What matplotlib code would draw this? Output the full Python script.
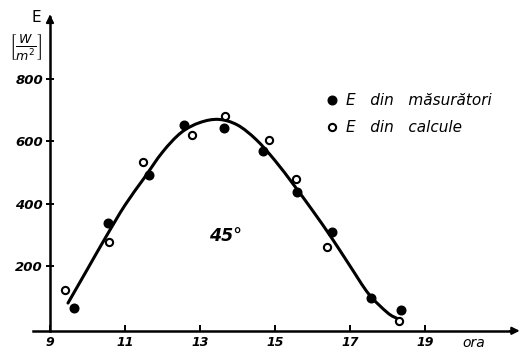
import matplotlib
matplotlib.use("Agg")
import matplotlib.pyplot as plt
from matplotlib.path import Path
from matplotlib.patches import PathPatch

# Irradiance on a 45° tilted surface over the day
hours_measured = [9.64, 10.55, 11.64, 12.58, 13.64, 14.67, 15.60, 16.53, 17.56, 18.35]
E_measured = [65, 337, 492, 652, 642, 569, 438, 308, 96, 59]

hours_calc = [9.40, 10.57, 11.47, 12.78, 13.67, 14.84, 15.56, 16.39, 18.31]
E_calc = [123, 276, 534, 620, 682, 604, 479, 260, 23]

# smooth trend curve (knots)
curve_hours = [9.48, 10.0, 10.5, 11.0, 11.5, 12.0, 12.5, 13.0, 13.5, 14.0,
               14.5, 15.0, 15.5, 16.0, 16.5, 17.0, 17.5, 18.0, 18.25]
curve_E = [81, 190, 295, 395, 480, 565, 628, 660, 670, 652,
           605, 538, 460, 378, 292, 200, 110, 50, 32]

x_ticks = [9, 11, 13, 15, 17, 19]
y_ticks = [200, 400, 600, 800]

fig = plt.figure(figsize=(5.27, 3.52), dpi=100)
ax = fig.add_axes([0, 0, 1, 1])
ax.set_xlim(7.667, 21.72)
ax.set_ylim(-76, 1053)

# Catmull-Rom knots turned into cubic Bezier segments for a smooth curve
pts = list(zip(curve_hours, curve_E))
verts = [pts[0]]
codes = [Path.MOVETO]
n = len(pts)
for i in range(n - 1):
    p0 = pts[i - 1] if i > 0 else pts[i]
    p1 = pts[i]
    p2 = pts[i + 1]
    p3 = pts[i + 2] if i + 2 < n else pts[i + 1]
    c1 = (p1[0] + (p2[0] - p0[0]) / 6, p1[1] + (p2[1] - p0[1]) / 6)
    c2 = (p2[0] - (p3[0] - p1[0]) / 6, p2[1] - (p3[1] - p1[1]) / 6)
    verts += [c1, c2, p2]
    codes += [Path.CURVE4] * 3
ax.add_patch(PathPatch(Path(verts, codes), fill=False, lw=2.2,
                       edgecolor="black", capstyle="round", zorder=2))

ax.plot(hours_measured, E_measured, ls="none", marker="o", ms=6.2,
        color="black", zorder=3, label="E   din   măsurători")
ax.plot(hours_calc, E_calc, ls="none", marker="o", ms=5.2, mfc="white",
        mec="black", mew=1.5, zorder=4, label="E   din   calcule")

leg = ax.legend(loc="upper left", bbox_to_anchor=(0.592, 0.775), frameon=False,
                handlelength=0.8, handletextpad=0.5, labelspacing=0.8,
                prop={"style": "italic", "size": 11})

# axes drawn as crossing lines with arrowheads
for side in ("top", "right"):
    ax.spines[side].set_visible(False)
ax.spines["left"].set_position(("data", 9))
ax.spines["left"].set_bounds(-8, 1000)
ax.spines["bottom"].set_position(("data", -8))
ax.spines["bottom"].set_bounds(8.55, 21.3)
ax.spines["left"].set_linewidth(1.8)
ax.spines["bottom"].set_linewidth(1.8)
ax.annotate("", xy=(9, 1015), xytext=(9, 985),
            arrowprops=dict(arrowstyle="-|>", color="black", lw=1.5, mutation_scale=11))
ax.annotate("", xy=(21.6, -8), xytext=(21.2, -8),
            arrowprops=dict(arrowstyle="-|>", color="black", lw=1.5, mutation_scale=11))

ax.set_xticks(x_ticks)
ax.set_xticklabels([str(t) for t in x_ticks])
ax.set_yticks(y_ticks)
ax.set_yticklabels([str(t) for t in y_ticks])
ax.tick_params(axis="x", direction="in", length=4, width=1.4, pad=4, labelsize=9)
ax.tick_params(axis="y", direction="inout", length=6, width=1.4, pad=2, labelsize=9.5)
for lab in ax.get_xticklabels() + ax.get_yticklabels():
    lab.set_fontstyle("italic")
    lab.set_fontweight("bold")

fig.text(36 / 527, 1 - 18 / 352, "E", ha="center", va="center",
         fontsize=11)
fig.text(26 / 527, 1 - 48 / 352, r"$\left[\frac{W}{m^2}\right]$",
         ha="center", va="center", fontsize=13)
ax.text(13.69, 296, "45°", ha="center", va="center", fontsize=12.5,
        style="italic", fontweight="bold")
ax.text(20.31, -47, "ora", ha="center", va="center", fontsize=10, style="italic")

fig.savefig("out.png", dpi=100)
